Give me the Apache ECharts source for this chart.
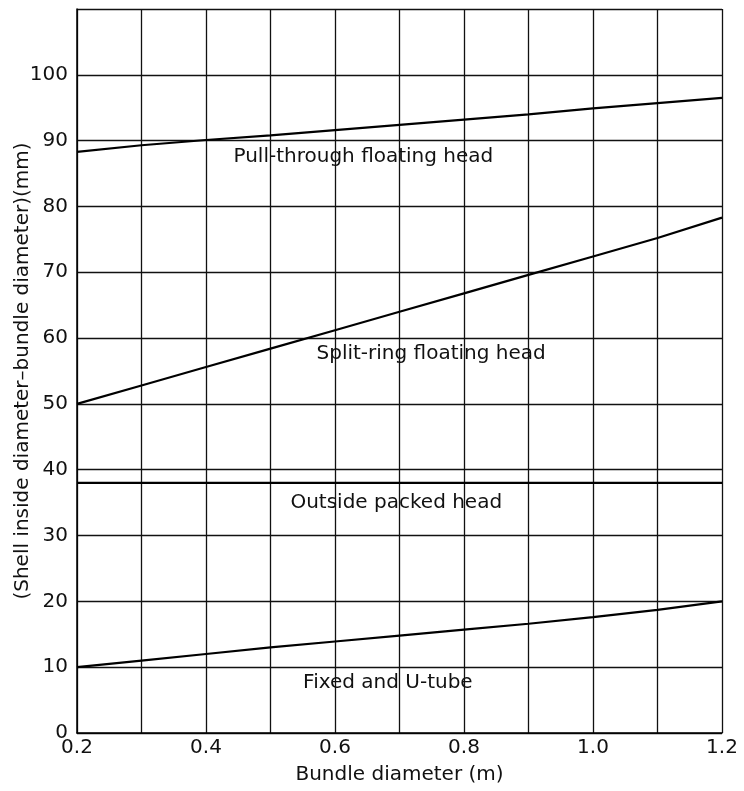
<!DOCTYPE html>
<html>
<head>
<meta charset="utf-8">
<script src="https://cdn.jsdelivr.net/npm/echarts@6/dist/echarts.min.js"></script>
<style>
  html, body { margin: 0; padding: 0; background: #fff; }
  #chart { width: 744px; height: 791px; }
</style>
</head>
<body>
<div id="chart"></div>
<script>
// bundle diameter (m)
var bundleDia = [0.2, 0.3, 0.4, 0.5, 0.6, 0.7, 0.8, 0.9, 1.0, 1.1, 1.2]
// shell inside diameter - bundle diameter (mm)
var pullThrough = [88.3, 89.3, 90.1, 90.8, 91.6, 92.4, 93.2, 94.0, 94.9, 95.7, 96.5]
var splitRing = [50.0, 52.8, 55.6, 58.4, 61.2, 64.0, 66.8, 69.6, 72.4, 75.2, 78.3]
var outsidePacked = [38, 38, 38, 38, 38, 38, 38, 38, 38, 38, 38]
var fixedUTube = [10.0, 11.0, 12.0, 13.0, 13.9, 14.8, 15.7, 16.6, 17.6, 18.7, 20.0]

// curve names and where their text sits (data coords)
var curveNames = ['Pull-through floating head', 'Split-ring floating head', 'Outside packed head', 'Fixed and U-tube']
var labelAt = [[0.644, 87.5], [0.749, 57.6], [0.695, 34.9], [0.682, 7.7]]

var font = 'DejaVu Sans'
var ink = '#111'

function pairs (ys) {
  return bundleDia.map(function (x, i) { return [x, ys[i]] })
}

function curve (name, ys, k) {
  return {
    name: name,
    type: 'line',
    data: pairs(ys),
    showSymbol: false,
    lineStyle: { color: '#000', width: 2.2 },
    markPoint: {
      symbol: 'circle',
      symbolSize: 0,
      silent: true,
      data: [{ coord: labelAt[k] }],
      label: {
        show: true,
        formatter: name,
        color: ink,
        fontFamily: font,
        fontSize: 20
      }
    }
  }
}

var myChart = echarts.init(document.getElementById('chart'))
myChart.setOption({
  animation: false,
  backgroundColor: '#fff',
  grid: { left: 77, right: 22, top: 9, bottom: 58, outerBoundsMode: 'none', containLabel: false },
  xAxis: {
    type: 'value',
    min: 0.2,
    max: 1.2,
    interval: 0.1,
    name: 'Bundle diameter (m)',
    nameLocation: 'middle',
    nameGap: 32,
    nameMoveOverlap: false,
    nameTextStyle: { color: ink, fontFamily: font, fontSize: 20 },
    axisLine: { show: true, lineStyle: { color: '#000', width: 1.5 } },
    axisTick: { show: false },
    axisLabel: {
      color: ink,
      fontFamily: font,
      fontSize: 20,
      margin: 5,
      formatter: function (v) {
        var n = Math.round(v * 10)
        return n % 2 === 0 ? (n / 10).toFixed(1) : ''
      }
    },
    splitLine: { show: true, lineStyle: { color: '#111', width: 1.3 } }
  },
  yAxis: {
    type: 'value',
    min: 0,
    max: 110,
    interval: 10,
    name: '(Shell inside diameter\u2013bundle diameter)(mm)',
    nameLocation: 'middle',
    nameGap: 44,
    nameMoveOverlap: false,
    nameTextStyle: { color: ink, fontFamily: font, fontSize: 20 },
    axisLine: { show: true, lineStyle: { color: '#000', width: 1.5 } },
    axisTick: { show: false },
    axisLabel: {
      color: ink,
      fontFamily: font,
      fontSize: 20,
      margin: 9,
      formatter: function (v) { return v <= 100 ? String(v) : '' }
    },
    splitLine: { show: true, lineStyle: { color: '#111', width: 1.3 } }
  },
  series: [
    curve(curveNames[0], pullThrough, 0),
    curve(curveNames[1], splitRing, 1),
    curve(curveNames[2], outsidePacked, 2),
    curve(curveNames[3], fixedUTube, 3)
  ]
})
</script>
</body>
</html>
